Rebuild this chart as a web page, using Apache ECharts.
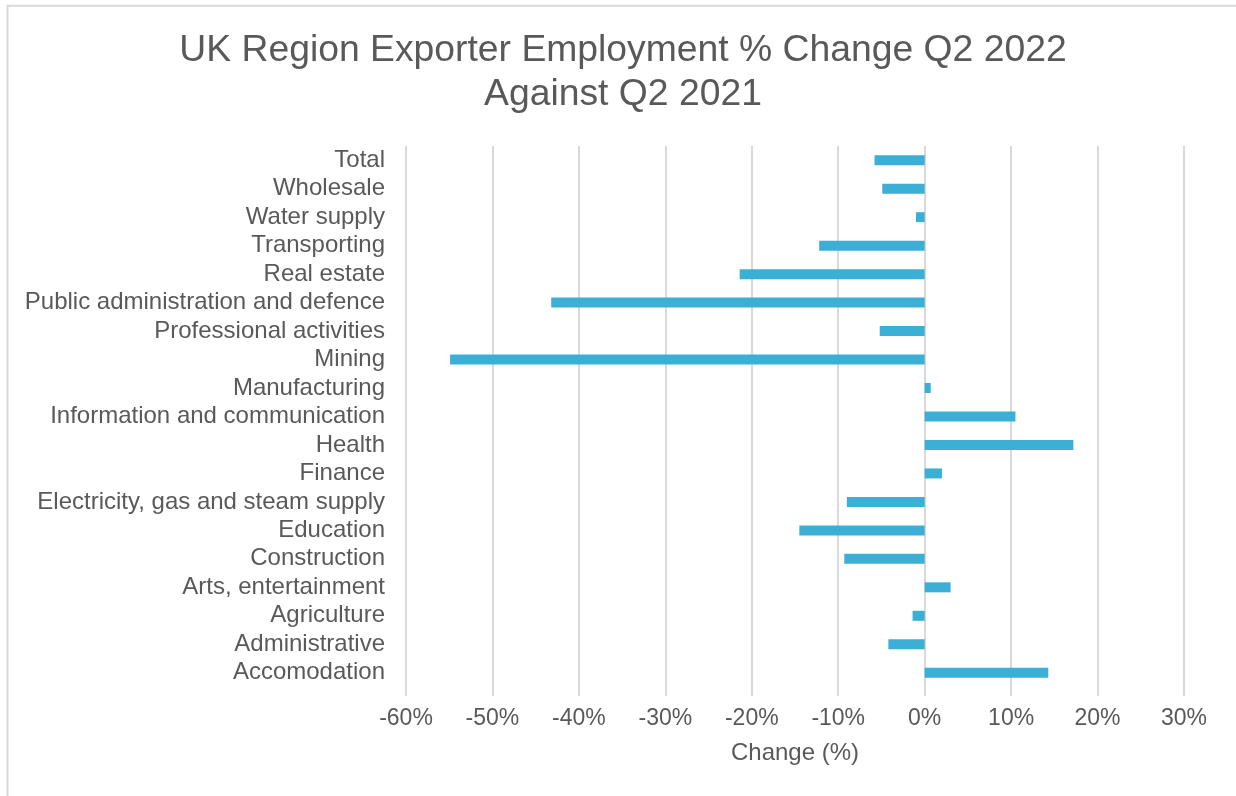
<!DOCTYPE html>
<html>
<head>
<meta charset="utf-8">
<script src="https://cdn.jsdelivr.net/npm/echarts@6/dist/echarts.min.js"></script>
<style>
  html, body { margin: 0; padding: 0; background: #ffffff; }
  #chart { width: 1236px; height: 796px; }
</style>
</head>
<body>
<div id="chart"></div>
<script>
const categories = [
  "Total", "Wholesale", "Water supply", "Transporting", "Real estate",
  "Public administration and defence", "Professional activities", "Mining",
  "Manufacturing", "Information and communication", "Health", "Finance",
  "Electricity, gas and steam supply", "Education", "Construction",
  "Arts, entertainment", "Agriculture", "Administrative", "Accomodation"
];
const changeValues = [
  -5.8, -4.9, -1.0, -12.2, -21.4,
  -43.2, -5.2, -54.9,
  0.7, 10.5, 17.2, 2.0,
  -9.0, -14.5, -9.3,
  3.0, -1.4, -4.2, 14.3
];
const tickValues = [-60, -50, -40, -30, -20, -10, 0, 10, 20, 30];

const textColor = '#595959';
const gridColor = '#d9d9d9';
const font = 'Liberation Sans, Arial, sans-serif';

const chart = echarts.init(document.getElementById('chart'), null, { renderer: 'canvas' });
chart.setOption({
  backgroundColor: '#ffffff',
  animation: false,
  title: {
    text: 'UK Region Exporter Employment % Change Q2 2022\nAgainst Q2 2021',
    left: 618,
    textAlign: 'center',
    top: 24,
    textStyle: {
      fontFamily: font,
      fontSize: 37.3,
      fontWeight: 'normal',
      color: textColor,
      lineHeight: 44
    }
  },
  graphic: [{
    type: 'rect',
    shape: { x: 7.5, y: 5.8, width: 1400, height: 1000 },
    style: { fill: 'none', stroke: gridColor, lineWidth: 2 },
    silent: true
  }],
  grid: {
    left: 406,
    right: 52,
    top: 146,
    bottom: 109,
    containLabel: false
  },
  xAxis: {
    type: 'value',
    min: tickValues[0],
    max: tickValues[tickValues.length - 1],
    interval: 10,
    name: 'Change (%)',
    nameLocation: 'middle',
    nameGap: 54,
    nameTextStyle: { fontFamily: font, fontSize: 24, color: textColor },
    axisLine: { show: false },
    axisTick: { show: true, length: 9, lineStyle: { color: gridColor, width: 2 } },
    axisLabel: {
      fontFamily: font,
      fontSize: 23,
      color: textColor,
      margin: 20,
      formatter: v => v + '%'
    },
    splitLine: { show: true, lineStyle: { color: gridColor, width: 2 } }
  },
  yAxis: {
    type: 'category',
    data: categories,
    inverse: true,
    axisLine: { show: false },
    axisTick: { show: false },
    axisLabel: {
      interval: 0,
      fontFamily: font,
      fontSize: 24,
      color: textColor,
      margin: 21
    }
  },
  series: [{
    type: 'bar',
    data: changeValues,
    barWidth: 10,
    itemStyle: { color: '#3bafd6' }
  }]
});
</script>
</body>
</html>
